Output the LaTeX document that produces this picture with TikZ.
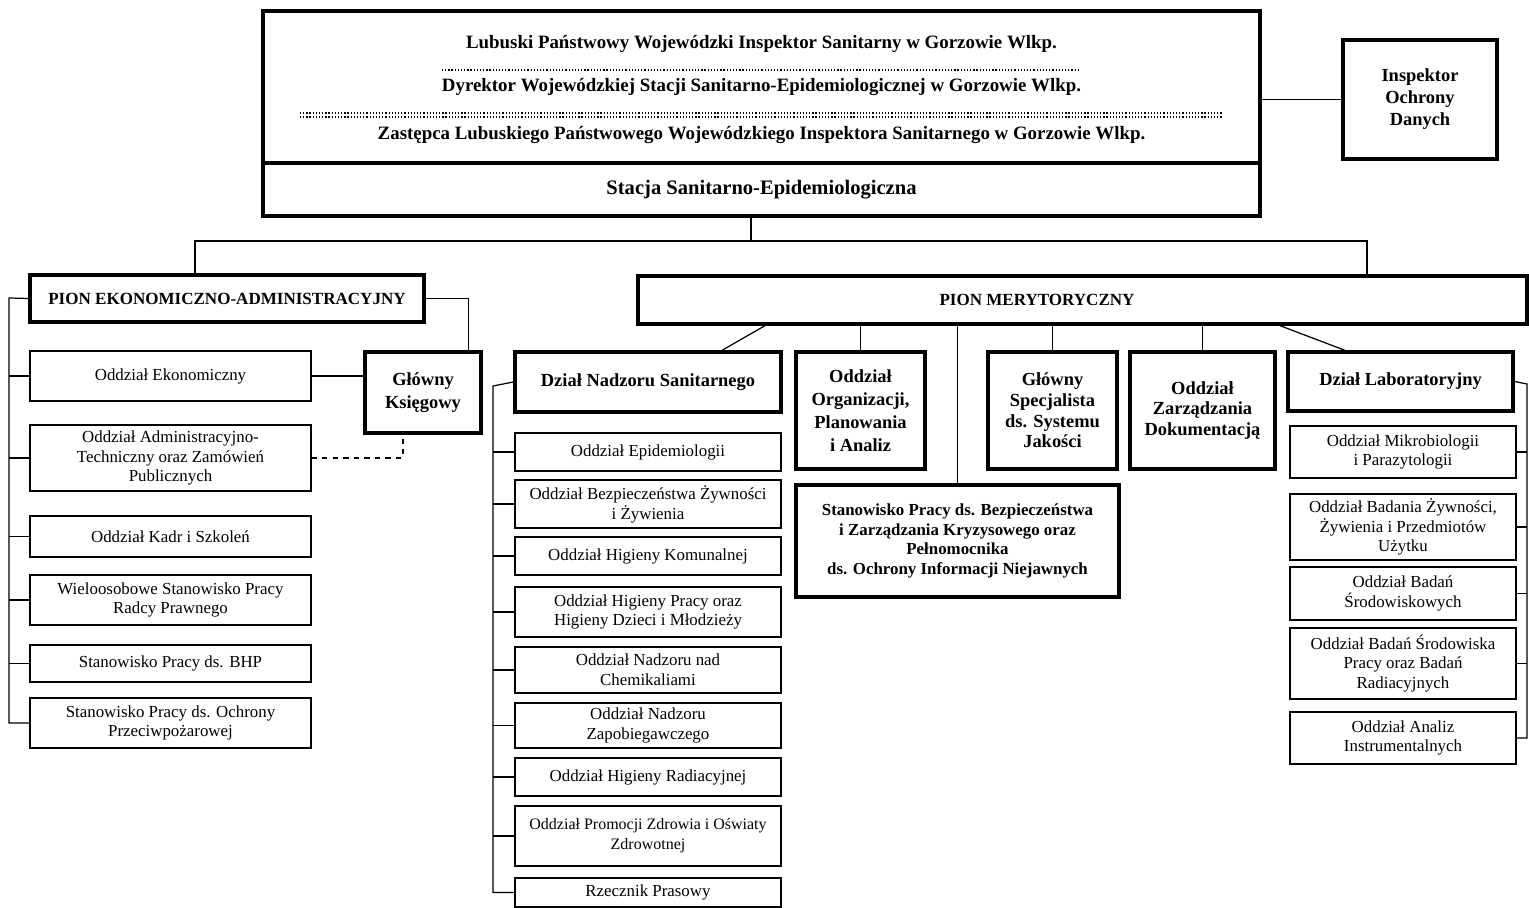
\documentclass[tikz,border=0pt]{standalone}
\usepackage{fontspec}
\setmainfont{Liberation Serif}
\usetikzlibrary{positioning}

\tikzset{
  thinbox/.style={draw,line width=0.8pt,align=center,inner sep=1pt,
    font=\fontsize{9.6}{11.3}\selectfont},
  thickbox/.style={draw,line width=1.9pt,align=center,inner sep=1pt,
    font=\fontsize{10.5}{13}\selectfont\bfseries},
  toptext/.style={font=\fontsize{10.75}{12}\selectfont\bfseries},
  link/.style={line width=0.7pt},
  dots/.style={line width=0.9pt,dash pattern=on 0.7pt off 1.1pt},
}

\begin{document}
\begin{tikzpicture}[x=0.02cm,y=-0.02cm]
\useasboundingbox (0,0) rectangle (1529,908);

% top
\node[thickbox,minimum width=19.94cm,minimum height=3.04cm] (ldr) at (761.5,87) {};
\node[thickbox,minimum width=19.94cm,minimum height=1.06cm,font=\fontsize{11.7}{13}\selectfont\bfseries] (stacja) at (761.5,189.5) {Stacja Sanitarno-Epidemiologiczna};
\node[toptext] (t1) at (761.5,44) {Lubuski Państwowy Wojewódzki Inspektor Sanitarny w Gorzowie Wlkp.};
\node[toptext] (t2) at (761.5,87) {Dyrektor Wojewódzkiej Stacji Sanitarno-Epidemiologicznej w Gorzowie Wlkp.};
\node[toptext] (t3) at (761.5,135) {Zastępca Lubuskiego Państwowego Wojewódzkiego Inspektora Sanitarnego w Gorzowie Wlkp.};
\draw[dots] (442,70) -- (1080,70);
\draw[dots] (300,113) -- (1222,113);
\draw[dots] (300,117) -- (1222,117);
\node[thickbox,minimum width=3.08cm,minimum height=2.38cm,font=\fontsize{10.5}{12.5}\selectfont\bfseries] (iod) at (1420,99.5) {Inspektor\\Ochrony\\Danych};

% piony
\node[thickbox,minimum width=7.88cm,minimum height=0.94cm,font=\fontsize{9.7}{12}\selectfont\bfseries] (pea) at (227,298.5) {PION EKONOMICZNO-ADMINISTRACYJNY};
\node[thickbox,minimum width=17.78cm,minimum height=0.96cm] (pm) at (1082.5,300) {};
\node[font=\fontsize{9.7}{12}\selectfont\bfseries] (pmtext) at (1037,300) {PION MERYTORYCZNY};

% pion ekonomiczno-administracyjny
\begin{scope}[every node/.append style={thinbox,minimum width=5.62cm}]
  \node[minimum height=1.00cm] (oek) at (170.5,376) {Oddział Ekonomiczny};
  \node[minimum height=1.32cm] (oadm) at (170.5,458) {Oddział Administracyjno-\\Techniczny oraz Zamówień\\Publicznych};
  \node[minimum height=0.82cm] (okadr) at (170.5,536.5) {Oddział Kadr i Szkoleń};
  \node[minimum height=1.00cm] (radca) at (170.5,600) {Wieloosobowe Stanowisko Pracy\\Radcy Prawnego};
  \node[minimum height=0.74cm] (bhp) at (170.5,663.5) {Stanowisko Pracy ds. BHP};
  \node[minimum height=1.00cm] (ppoz) at (170.5,723) {Stanowisko Pracy ds. Ochrony\\Przeciwpożarowej};
\end{scope}
\node[thickbox,minimum width=2.32cm,minimum height=1.62cm] (gk) at (423,392.5) {Główny\\Księgowy};

% pion merytoryczny
\node[thickbox,minimum width=5.32cm,minimum height=1.2cm] (dns) at (648,382) {Dział Nadzoru Sanitarnego};
\node[thickbox,minimum width=2.58cm,minimum height=2.34cm] (oopa) at (860.5,410.5) {Oddział\\Organizacji,\\Planowania\\i Analiz};
\node[thickbox,minimum width=2.58cm,minimum height=2.34cm,font=\fontsize{10.5}{11.7}\selectfont\bfseries] (gssj) at (1052.5,410.5) {Główny\\Specjalista\\ds. Systemu\\Jakości};
\node[thickbox,minimum width=2.90cm,minimum height=2.34cm,font=\fontsize{10.5}{11.7}\selectfont\bfseries] (ozd) at (1202.5,410.5) {Oddział\\Zarządzania\\Dokumentacją};
\node[thickbox,minimum width=6.46cm,minimum height=2.24cm,font=\fontsize{9.6}{11.2}\selectfont\bfseries] (spb) at (957.5,541) {Stanowisko Pracy ds. Bezpieczeństwa\\i Zarządzania Kryzysowego oraz\\Pełnomocnika\\ds. Ochrony Informacji Niejawnych};
\node[thickbox,minimum width=4.50cm,minimum height=1.18cm] (dl) at (1400.5,381.5) {Dział Laboratoryjny};

\begin{scope}[every node/.append style={thinbox,minimum width=5.32cm}]
  \node[minimum height=0.76cm] (oepi) at (648,452) {Oddział Epidemiologii};
  \node[minimum height=0.96cm] (obzz) at (648,504) {Oddział Bezpieczeństwa Żywności\\i Żywienia};
  \node[minimum height=0.76cm] (ohk) at (648,556) {Oddział Higieny Komunalnej};
  \node[minimum height=1.00cm] (ohp) at (648,612) {Oddział Higieny Pracy oraz\\Higieny Dzieci i Młodzieży};
  \node[minimum height=0.92cm] (onch) at (648,670) {Oddział Nadzoru nad\\Chemikaliami};
  \node[minimum height=0.90cm] (onz) at (648,725.5) {Oddział Nadzoru\\Zapobiegawczego};
  \node[minimum height=0.76cm] (ohr) at (648,777) {Oddział Higieny Radiacyjnej};
  \node[minimum height=1.20cm,font=\fontsize{9.1}{11.3}\selectfont] (opz) at (648,836) {Oddział Promocji Zdrowia i Oświaty\\Zdrowotnej};
  \node[minimum height=0.58cm] (rp) at (648,892.5) {Rzecznik Prasowy};
\end{scope}

\begin{scope}[every node/.append style={thinbox,minimum width=4.52cm}]
  \node[minimum height=1.04cm] (omp) at (1403,452) {Oddział Mikrobiologii\\i Parazytologii};
  \node[minimum height=1.32cm] (obz) at (1403,527) {Oddział Badania Żywności,\\Żywienia i Przedmiotów\\Użytku};
  \node[minimum height=1.06cm] (obs) at (1403,593.5) {Oddział Badań\\Środowiskowych};
  \node[minimum height=1.42cm] (obsp) at (1403,663.5) {Oddział Badań Środowiska\\Pracy oraz Badań\\Radiacyjnych};
  \node[minimum height=1.04cm] (oai) at (1403,738) {Oddział Analiz\\Instrumentalnych};
\end{scope}

% rails
\coordinate (railL) at (9,298);
\coordinate (railM) at (493,386);
\coordinate (railR) at (1527,384);
\coordinate (jL) at (195,241);
\coordinate (jR) at (1367,241);

% connectors
\begin{scope}[link]
  \draw (ldr.east |- iod.west) -- (iod.west);
  \draw (stacja.south -| 751,0) -- (jL -| 751,0);
  \draw (jL |- pea.north) -- (jL) -- (jR) -- (jR |- pm.north);
  \draw (pea.west) -- (railL) -- (railL |- ppoz.west) -- (ppoz.west);
  \foreach \n in {oek,oadm,okadr,radca,bhp} \draw (railL |- \n.west) -- (\n.west);
  \draw (pea.east) -| ([xshift=-0.28cm]gk.north east);
  \draw (oek.east) -- (oek.east -| gk.west);
  \draw[dashed] (oadm.east) -| ([xshift=-0.4cm]gk.south);
  \draw (pm.south -| 765,0) -- (dns.north -| 722,0);
  \draw (pm.south -| oopa.north) -- (oopa.north);
  \draw (pm.south -| spb.north) -- (spb.north);
  \draw (pm.south -| gssj.north) -- (gssj.north);
  \draw (pm.south -| ozd.north) -- (ozd.north);
  \draw (pm.south -| 1280,0) -- (dl.north -| 1345,0);
  \draw (dns.west) -- (railM) -- (railM |- rp.west) -- (rp.west);
  \foreach \n in {oepi,obzz,ohk,ohp,onch,onz,ohr,opz} \draw (railM |- \n.west) -- (\n.west);
  \draw (dl.east) -- (railR) -- (railR |- oai.east) -- (oai.east);
  \foreach \n in {omp,obz,obs,obsp} \draw (railR |- \n.east) -- (\n.east);
\end{scope}
\end{tikzpicture}
\end{document}
